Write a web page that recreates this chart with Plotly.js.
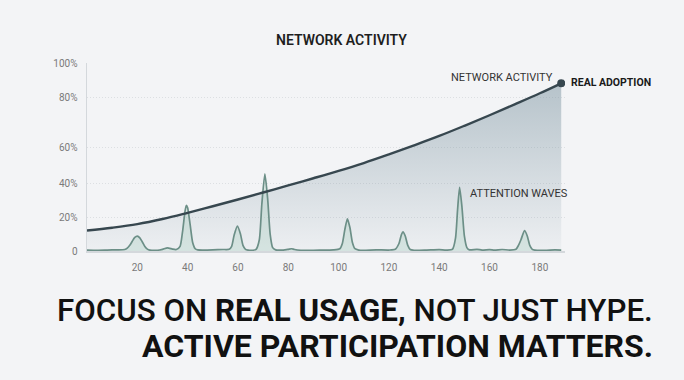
<!DOCTYPE html>
<html>
<head>
<meta charset="utf-8">
<script src="https://cdn.plot.ly/plotly-3.0.1.min.js"></script>
<style>html,body{margin:0;padding:0;background:#f3f4f6;}#chart{width:684px;height:380px;}</style>
</head>
<body>
<div id="chart"></div>
<script>
// Network activity curve (x in days, y in axis units)
const adoptionX = [0,10,20,30,40,50,60,70,80,90,100,110,120,130,140,150,160,170,180,188.5];
const adoptionY = [10.9,12.4,14.3,17.0,20.3,23.8,27.4,31.1,34.9,38.7,42.6,46.8,51.4,56.2,61.2,66.6,72.2,78.0,83.9,89.2];

// Attention waves
const wavesX = [0,4,8,12,15,16,17,18,19,20,21,22,23,24,25,28,30,32,34,35.5,
  37,38,39,39.5,40,41,42,43,44,46,50,54,56.5,57.5,58.5,59.8,61,62,63,64,66,67.2,
  68.5,69.5,70.7,71.8,72.8,73.8,75,78,80,81.3,82.5,85,90,95,98,100.5,101.5,102.5,103.5,104.5,105.5,106.5,108,
  110,115,120,122.5,124,125,125.6,126.5,127.5,128.5,130,135,140,143,145.3,146.5,147.3,148.1,149,150,151,152,
  155,157,160,162,165,168,170.5,171.5,172.5,173.9,175,176,177,178,182,186,188.5];
const wavesY = [0.5,0.4,0.5,0.6,0.8,1.5,3.0,5.2,7.2,7.9,7.0,4.8,2.4,1.0,0.5,0.4,0.9,1.7,1.0,0.8,
  2.5,10.5,21.5,24.3,23.0,14.0,4.5,1.2,0.6,0.5,0.6,0.8,0.9,2.5,8.5,13.2,9.0,3.0,0.9,0.5,0.4,0.9,
  6.0,25.0,41.1,28.0,9.0,1.8,0.6,0.5,0.9,1.2,0.8,0.4,0.4,0.5,0.6,1.2,4.0,11.5,17.1,12.5,4.5,1.2,0.5,
  0.4,0.6,0.5,0.9,4.0,8.8,10.2,8.0,3.0,0.8,0.4,0.5,0.7,0.5,1.0,7.0,22.0,33.8,24.0,8.0,1.8,0.6,
  0.9,0.5,0.7,0.5,0.8,0.5,0.9,3.0,6.0,10.9,8.0,3.0,0.9,0.5,0.4,0.6,0.5];

const xTicks = [20,40,60,80,100,120,140,160,180];
const yTickVals = [0,18,36,54.8,81.9,100];
const yTickText = ['0','20%','40%','60%','80%','100%'];

const endX = [adoptionX[adoptionX.length-1]];
const endY = [adoptionY[adoptionY.length-1]];

const traces = [
  {x: adoptionX, y: adoptionY, type:'scatter', mode:'none', fill:'tozeroy',
   line:{shape:'spline', smoothing:1},
   fillgradient:{type:'vertical', start:0, stop:90,
     colorscale:[[0,'rgba(120,145,158,0.05)'],[1,'rgba(120,145,158,0.5)']]},
   hoverinfo:'skip', showlegend:false},
  {x: wavesX, y: wavesY, type:'scatter', mode:'lines', fill:'tozeroy',
   fillcolor:'rgba(170,205,192,0.35)',
   line:{color:'#6c8f87', width:1.7, shape:'spline', smoothing:0.6},
   showlegend:false},
  {x: adoptionX, y: adoptionY, type:'scatter', mode:'lines',
   line:{color:'#37474f', width:2.4, shape:'spline', smoothing:1},
   showlegend:false},
  {x: endX, y: endY, type:'scatter', mode:'markers',
   marker:{color:'#37474f', size:8}, showlegend:false}
];

const F = 'Roboto, "Noto Sans", sans-serif';
const layout = {
  width:684, height:380,
  paper_bgcolor:'#f3f4f6', plot_bgcolor:'#f3f4f6',
  margin:{l:87, r:119, t:63, b:129},
  font:{family:F, color:'#777'},
  xaxis:{range:[0,190], tickvals:xTicks, showgrid:false, zeroline:false,
    showline:true, linecolor:'#d4d8dc', linewidth:1.5,
    tickfont:{size:10, color:'#7a7a7a'}, ticks:'', ticklabelstandoff:6},
  yaxis:{range:[0,100], tickvals:yTickVals, ticktext:yTickText,
    showgrid:true, gridcolor:'#dcdfe2', griddash:'1px,2px', gridwidth:1,
    zeroline:false, showline:true, linecolor:'#d4d8dc', linewidth:1.5,
    tickfont:{size:10, color:'#7a7a7a'}, ticks:'', ticklabelstandoff:6},
  annotations:[
    {text:'NETWORK ACTIVITY', xref:'paper', yref:'paper', x:0.533, y:1.122,
     xanchor:'center', yanchor:'middle',
     showarrow:false, font:{family:F, size:14, color:'#1e1e1e', weight:600}},
    {text:'NETWORK ACTIVITY', xref:'x', yref:'y', x:186, y:92.2, xanchor:'right', yanchor:'middle',
     showarrow:false, font:{family:F, size:11, color:'#333'}},
    {text:'REAL ADOPTION', xref:'paper', yref:'paper', x:1.008, y:0.898, xanchor:'left', yanchor:'middle',
     showarrow:false, font:{family:F, size:10.5, color:'#1a1a1a', weight:700}},
    {text:'ATTENTION WAVES', xref:'x', yref:'y', x:151.3, y:30.5, xanchor:'left', yanchor:'middle',
     showarrow:false, font:{family:F, size:11, color:'#333'}},
    {text:'FOCUS ON <b>REAL USAGE,</b> NOT JUST HYPE.', xref:'paper', yref:'paper',
     x:1.188, y:-0.319, xanchor:'right', yanchor:'middle', showarrow:false,
     font:{family:F, size:31.3, color:'#111', weight:500}},
    {text:'<b>ACTIVE PARTICIPATION MATTERS.</b>', xref:'paper', yref:'paper',
     x:1.188, y:-0.505, xanchor:'right', yanchor:'middle', showarrow:false,
     font:{family:F, size:32, color:'#111', weight:500}}
  ]
};
Plotly.newPlot('chart', traces, layout, {displayModeBar:false, staticPlot:true});
</script>
</body>
</html>
